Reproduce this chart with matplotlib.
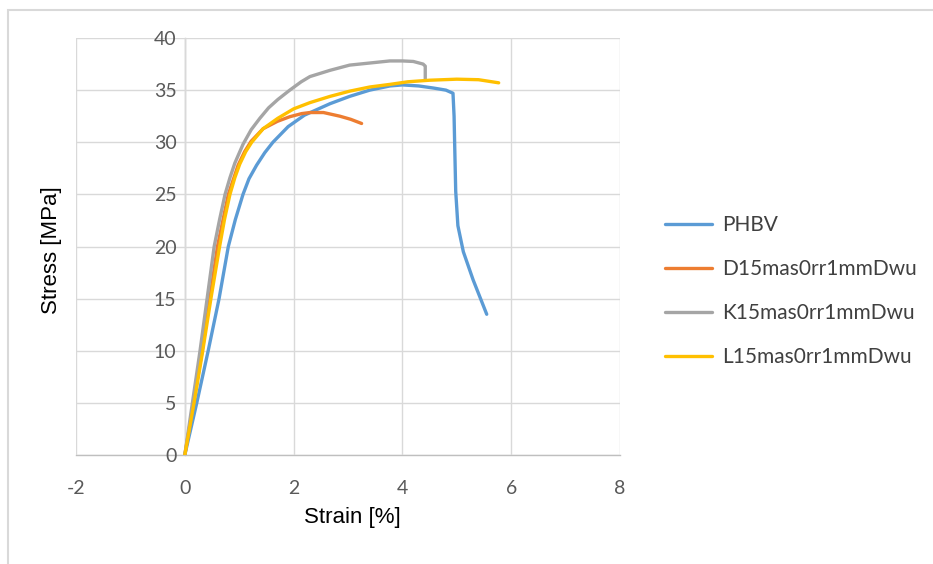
import matplotlib
matplotlib.use("Agg")
import matplotlib.pyplot as plt
from matplotlib.patches import Rectangle

plt.rcParams["axes.unicode_minus"] = False

# ── Data ──────────────────────────────────────────────────────────────────────

phbv_strain = [0, 0.22, 0.43, 0.63, 0.80, 0.93, 1.07, 1.18, 1.32, 1.47, 1.62, 1.9,
               2.2, 2.67, 3.03, 3.4, 3.77, 4.0, 4.3, 4.57, 4.8, 4.93, 4.95, 4.96,
               4.98, 5.02, 5.12, 5.3, 5.55]
phbv_stress = [0, 5, 10, 15, 20, 22.6, 25, 26.5, 27.8, 29.0, 30.0, 31.5,
               32.6, 33.7, 34.4, 35.0, 35.4, 35.5, 35.4, 35.2, 35.0, 34.7, 32.5, 30,
               25.3, 22, 19.5, 16.8, 13.5]

d15_strain = [0, 0.16, 0.32, 0.46, 0.6, 0.8, 0.98, 1.1, 1.22, 1.44, 1.7, 1.93,
              2.15, 2.3, 2.55, 2.85, 3.05, 3.25]
d15_stress = [0, 5, 10, 15, 20, 25, 27.8, 29.1, 30.1, 31.3, 32.0, 32.45,
              32.75, 32.85, 32.85, 32.5, 32.2, 31.8]

k15_strain = [0, 0.14, 0.28, 0.41, 0.54, 0.64, 0.74, 0.83, 0.92, 1.07, 1.22, 1.38,
              1.54, 1.71, 1.93, 2.14, 2.3, 2.67, 3.03, 3.4, 3.77, 4.0, 4.2, 4.38,
              4.42, 4.42]
k15_stress = [0, 5, 10, 15, 20, 22.6, 25, 26.6, 28.0, 29.8, 31.2, 32.3,
              33.3, 34.1, 35.0, 35.8, 36.3, 36.9, 37.4, 37.6, 37.8, 37.8, 37.75, 37.5,
              37.3, 36.0]

l15_strain = [0, 0.17, 0.33, 0.48, 0.64, 0.73, 0.83, 0.92, 1.01, 1.12, 1.23, 1.44,
              1.71, 2.0, 2.3, 2.67, 3.03, 3.4, 3.77, 4.1, 4.5, 5.0, 5.4, 5.77]
l15_stress = [0, 5, 10, 15, 20, 22.6, 25, 26.6, 27.9, 29.1, 30.0, 31.3,
              32.3, 33.2, 33.8, 34.4, 34.9, 35.3, 35.55, 35.8, 35.95, 36.05, 36.0, 35.7]

series = [
    ("PHBV", phbv_strain, phbv_stress, "#5B9BD5"),
    ("D15mas0rr1mmDwu", d15_strain, d15_stress, "#ED7D31"),
    ("K15mas0rr1mmDwu", k15_strain, k15_stress, "#A5A5A5"),
    ("L15mas0rr1mmDwu", l15_strain, l15_stress, "#FFC000"),
]

x_ticks = [-2, 0, 2, 4, 6, 8]
y_ticks = [0, 5, 10, 15, 20, 25, 30, 35, 40]

# ── Plot ──────────────────────────────────────────────────────────────────────

W, H = 933, 564
fig = plt.figure(figsize=(W / 100, H / 100), dpi=100)
ax = fig.add_axes([76 / W, 1 - 455 / H, (620 - 76) / W, (455 - 38) / H])

for name, xs, ys, col in series:
    ax.plot(xs, ys, color=col, lw=2.4, label=name, solid_joinstyle="round",
            solid_capstyle="round")

ax.set_xlim(-2, 8)
ax.set_ylim(0, 40)
ax.set_xticks(x_ticks)
ax.set_yticks(y_ticks)
ax.grid(True, color="#D9D9D9", lw=1)
ax.set_axisbelow(True)

for s in ["top", "right"]:
    ax.spines[s].set_visible(False)
ax.spines["left"].set_position(("data", 0))
for s in ["left", "bottom"]:
    ax.spines[s].set_color("#BFBFBF")
    ax.spines[s].set_linewidth(1)
    ax.spines[s].set_zorder(0.5)

ax.tick_params(length=0, labelsize=14, labelcolor="#595959")
ax.tick_params(axis="x", pad=18)
ax.tick_params(axis="y", pad=6)
for lab in ax.get_xticklabels() + ax.get_yticklabels():
    lab.set_fontfamily("Lato")

# axis titles placed where Excel puts them
fig.text(352 / W, 1 - 517 / H, "Strain [%]", fontsize=16,
         family="Liberation Sans", ha="center", va="center")
fig.text(52 / W, 1 - 250 / H, "Stress [MPa]", fontsize=16, rotation=90,
         family="Liberation Sans", ha="center", va="center")

fig.legend(loc="upper left", bbox_to_anchor=(665 / W, 1 - 215 / H),
           frameon=False, prop={"family": "Lato", "size": 15},
           handlelength=2.26, handletextpad=0.48, labelspacing=1.15,
           borderpad=0, borderaxespad=0, labelcolor="#404040")

# light outer chart border
fig.patches.append(Rectangle((8 / W, -0.2), 1.2, 1 - 10 / H + 0.2,
                             transform=fig.transFigure, fill=False,
                             edgecolor="#D9D9D9", lw=1.5))

fig.savefig("out.png", dpi=100)
plt.close(fig)
